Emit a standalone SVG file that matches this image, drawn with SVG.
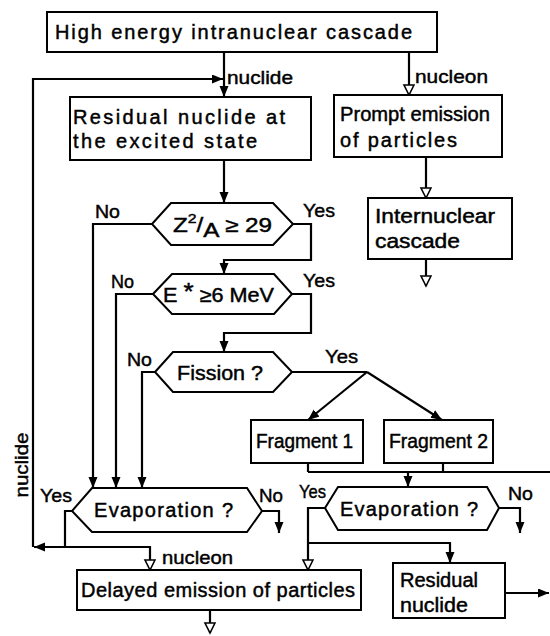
<svg xmlns="http://www.w3.org/2000/svg" width="550" height="636" viewBox="0 0 550 636">
<style>
  .box { fill: #fff; stroke: #000; stroke-width: 2; }
  .t { font-family: "Liberation Sans", Arial, sans-serif; font-size: 20px; fill: #000; stroke: #000; stroke-width: 0.45; }
  .s { font-family: "Liberation Sans", Arial, sans-serif; font-size: 19px; fill: #000; stroke: #000; stroke-width: 0.45; }
  .ln { fill: none; stroke: #000; stroke-width: 2.2; }
</style>
<defs>
  <marker id="fa" markerUnits="userSpaceOnUse" markerWidth="12" markerHeight="10" refX="11" refY="4.5" orient="auto">
    <path d="M0,0 L11,4.5 L0,9 z" fill="#000"/>
  </marker>
  <marker id="ha" markerUnits="userSpaceOnUse" markerWidth="14" markerHeight="14" refX="11" refY="6" orient="auto">
    <path d="M1,1 L11,6 L1,11 z" fill="#fff" stroke="#000" stroke-width="1.6"/>
  </marker>
</defs>
<rect width="550" height="636" fill="#fff"/>

<g id="connectors">
  <path class="ln" d="M224,52 V97" marker-end="url(#fa)"/>
  <path class="ln" d="M33,547 V79 H223" marker-end="url(#fa)"/>
  <path class="ln" d="M409,52 V95" marker-end="url(#ha)"/>
  <path class="ln" d="M426,157 V198" marker-end="url(#ha)"/>
  <path class="ln" d="M426,259 V286" marker-end="url(#ha)"/>
  <path class="ln" d="M224,160 V203" marker-end="url(#fa)"/>
  <path class="ln" d="M152,224 H93 V488" marker-end="url(#fa)"/>
  <path class="ln" d="M293,224 H311 V260 H224 V274" marker-end="url(#fa)"/>
  <path class="ln" d="M153,294 H116 V488" marker-end="url(#fa)"/>
  <path class="ln" d="M292,294 H311 V333 H224 V352" marker-end="url(#fa)"/>
  <path class="ln" d="M155,372 H142 V488" marker-end="url(#fa)"/>
  <path class="ln" d="M292,372 H367"/>
  <path class="ln" d="M367,372 L308,420" marker-end="url(#fa)"/>
  <path class="ln" d="M367,372 L442,420" marker-end="url(#fa)"/>
  <path class="ln" d="M308,463 V472 M443,463 V472 M308,472 H550"/>
  <path class="ln" d="M408,472 V487" marker-end="url(#fa)"/>
  <path class="ln" d="M72,511 H65 V547 H34" marker-end="url(#fa)"/>
  <path class="ln" d="M65,547 H150 V570" marker-end="url(#ha)"/>
  <path class="ln" d="M262,511 H279 V533" marker-end="url(#fa)"/>
  <path class="ln" d="M325,508 H308 V570" marker-end="url(#ha)"/>
  <path class="ln" d="M308,543 H450 V563" marker-end="url(#fa)"/>
  <path class="ln" d="M499,508 H520 V533" marker-end="url(#fa)"/>
  <path class="ln" d="M210,610 V633" marker-end="url(#ha)"/>
  <path class="ln" d="M505,593 H549" marker-end="url(#fa)"/>
</g>

<g id="labels">
  <text class="s" x="227" y="84" textLength="66" lengthAdjust="spacingAndGlyphs">nuclide</text>
  <text class="s" x="415" y="83" textLength="73" lengthAdjust="spacingAndGlyphs">nucleon</text>
  <text class="s" x="95" y="218" textLength="25" lengthAdjust="spacingAndGlyphs">No</text>
  <text class="s" x="303" y="217" textLength="32" lengthAdjust="spacingAndGlyphs">Yes</text>
  <text class="s" x="111" y="288" textLength="23" lengthAdjust="spacingAndGlyphs">No</text>
  <text class="s" x="303" y="287" textLength="32" lengthAdjust="spacingAndGlyphs">Yes</text>
  <text class="s" x="127" y="366" textLength="25" lengthAdjust="spacingAndGlyphs">No</text>
  <text class="s" x="325" y="363" textLength="33" lengthAdjust="spacingAndGlyphs">Yes</text>
  <text class="s" x="40" y="502" textLength="32" lengthAdjust="spacingAndGlyphs">Yes</text>
  <text class="s" x="259" y="502" textLength="24" lengthAdjust="spacingAndGlyphs">No</text>
  <text class="s" x="299" y="498" textLength="27" lengthAdjust="spacingAndGlyphs">Yes</text>
  <text class="s" x="508" y="500" textLength="25" lengthAdjust="spacingAndGlyphs">No</text>
  <text class="s" x="162" y="564" textLength="71" lengthAdjust="spacingAndGlyphs">nucleon</text>
  <text class="s" transform="translate(28,465) rotate(-90)" text-anchor="middle" textLength="65" lengthAdjust="spacingAndGlyphs">nuclide</text>
</g>

<g id="n-top">
  <rect class="box" x="47" y="12" width="390" height="40"/>
  <text class="t" x="55" y="39" textLength="357" lengthAdjust="spacing">High energy intranuclear cascade</text>
</g>

<g id="n-residual">
  <rect class="box" x="70" y="97" width="241" height="63"/>
  <text class="t" x="73" y="124" textLength="212" lengthAdjust="spacing">Residual nuclide at</text>
  <text class="t" x="73" y="148" textLength="184" lengthAdjust="spacing">the excited state</text>
</g>

<g id="n-prompt">
  <rect class="box" x="334" y="95" width="168" height="62"/>
  <text class="t" x="340" y="121" textLength="150" lengthAdjust="spacingAndGlyphs">Prompt emission</text>
  <text class="t" x="340" y="147" textLength="117" lengthAdjust="spacing">of particles</text>
</g>

<g id="n-internuclear">
  <rect class="box" x="368" y="198" width="144" height="61"/>
  <text class="t" x="375" y="223" textLength="120" lengthAdjust="spacingAndGlyphs">Internuclear</text>
  <text class="t" x="375" y="248" textLength="85" lengthAdjust="spacingAndGlyphs">cascade</text>
</g>

<g id="n-z2a">
  <polygon class="box" points="152,224 171,203 273,203 293,224 273,245 171,245"/>
  <text class="t" x="173" y="232" font-size="22" textLength="99" lengthAdjust="spacingAndGlyphs">Z<tspan font-size="13" dy="-9">2</tspan><tspan dy="9">/</tspan><tspan dy="5">A</tspan><tspan dy="-5"> ≥ 29</tspan></text>
</g>

<g id="n-estar">
  <polygon class="box" points="153,294 172,274 274,274 292,294 274,314 172,314"/>
  <text class="t" x="163" y="302" font-size="22" textLength="111" lengthAdjust="spacingAndGlyphs">E <tspan font-size="24" dy="-2">*</tspan><tspan dy="2"> ≥6 </tspan><tspan font-size="20">MeV</tspan></text>
</g>

<g id="n-fission">
  <polygon class="box" points="155,372 173,352 273,352 292,372 273,392 173,392"/>
  <text class="t" x="177" y="380" textLength="86" lengthAdjust="spacingAndGlyphs" font-size="20">Fission ?</text>
</g>

<g id="n-frag1">
  <rect class="box" x="251" y="420" width="112" height="43"/>
  <text class="t" x="256" y="448" textLength="97" lengthAdjust="spacingAndGlyphs">Fragment 1</text>
</g>

<g id="n-frag2">
  <rect class="box" x="384" y="420" width="109" height="43"/>
  <text class="t" x="389" y="448" textLength="99" lengthAdjust="spacingAndGlyphs">Fragment 2</text>
</g>

<g id="n-evap1">
  <polygon class="box" points="72,511 92,488 247,488 262,511 247,532 92,532"/>
  <text class="t" x="94" y="517" textLength="139" lengthAdjust="spacing" font-size="20">Evaporation ?</text>
</g>

<g id="n-evap2">
  <polygon class="box" points="325,508 338,487 487,487 499,508 487,530 338,530"/>
  <text class="t" x="340" y="516" textLength="138" lengthAdjust="spacing" font-size="20">Evaporation ?</text>
</g>

<g id="n-delayed">
  <rect class="box" x="77" y="570" width="284" height="40"/>
  <text class="t" x="81" y="597" textLength="274" lengthAdjust="spacing">Delayed emission of particles</text>
</g>

<g id="n-resnuc">
  <rect class="box" x="393" y="563" width="112" height="55"/>
  <text class="t" x="400" y="587" textLength="78" lengthAdjust="spacingAndGlyphs">Residual</text>
  <text class="t" x="400" y="612" textLength="68" lengthAdjust="spacingAndGlyphs">nuclide</text>
</g>
</svg>
